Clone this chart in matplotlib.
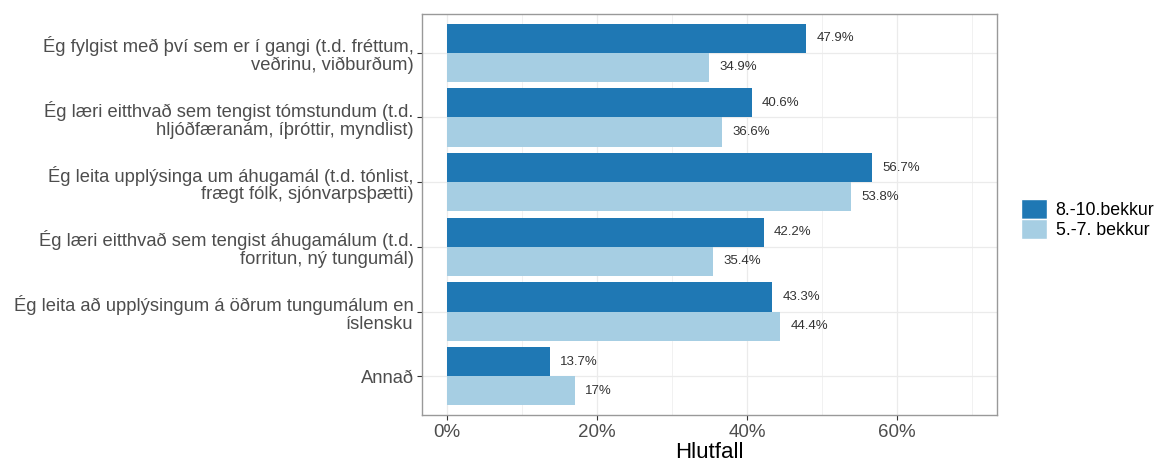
import matplotlib.pyplot as plt
from matplotlib.patches import Patch
from matplotlib.ticker import MultipleLocator, FuncFormatter

plt.rcParams['font.family'] = ['Liberation Sans', 'DejaVu Sans']

categories = [
    "Ég fylgist með því sem er í gangi (t.d. fréttum,\nveðrinu, viðburðum)",
    "Ég læri eitthvað sem tengist tómstundum (t.d.\nhljóðfæranám, íþróttir, myndlist)",
    "Ég leita upplýsinga um áhugamál (t.d. tónlist,\nfrægt fólk, sjónvarpsþætti)",
    "Ég læri eitthvað sem tengist áhugamálum (t.d.\nforritun, ný tungumál)",
    "Ég leita að upplýsingum á öðrum tungumálum en\níslensku",
    "Annað",
]
eldri = [47.9, 40.6, 56.7, 42.2, 43.3, 13.7]   # 8.-10.bekkur
yngri = [34.9, 36.6, 53.8, 35.4, 44.4, 17]     # 5.-7. bekkur
groups = ["8.-10.bekkur", "5.-7. bekkur"]
colors = ["#1F78B4", "#A6CEE3"]

fig = plt.figure(figsize=(11.64, 4.61), dpi=100)
ax = fig.add_axes([422 / 1164, 1 - 415 / 461, 575 / 1164, 401 / 461])

pos = list(range(1, len(categories) + 1))
w = 0.45
b1 = ax.barh([p - w / 2 for p in pos], eldri, height=w, color=colors[0], zorder=2)
b2 = ax.barh([p + w / 2 for p in pos], yngri, height=w, color=colors[1], zorder=2)

for bars, vals in ((b1, eldri), (b2, yngri)):
    for r, v in zip(bars, vals):
        ax.annotate(f"{v:g}%", (v, r.get_y() + r.get_height() / 2),
                    xytext=(7.5, 0), textcoords="offset points",
                    ha="left", va="center", fontsize=9.5, color="#333333")

ax.set_xlim(-3.33, 73.3)
ax.set_ylim(len(categories) + 0.6, 0.4)
ax.xaxis.set_major_locator(MultipleLocator(20))
ax.xaxis.set_minor_locator(MultipleLocator(10))
ax.xaxis.set_major_formatter(FuncFormatter(lambda x, _: f"{x:.0f}%"))
ax.set_yticks(pos)
ax.set_yticklabels(categories, fontsize=13.2, color="#4d4d4d", linespacing=1.05)
ax.tick_params(axis="x", labelsize=13.5, labelcolor="#4d4d4d", pad=3)
ax.tick_params(axis="y", pad=2.5)
ax.tick_params(which="major", length=3.5, color="#333333", width=0.8)
ax.tick_params(which="minor", length=0)

ax.grid(which="major", color="#EBEBEB", linewidth=0.9, zorder=0)
ax.grid(which="minor", axis="x", color="#EBEBEB", linewidth=0.5, zorder=0)
ax.set_axisbelow(True)
for s in ax.spines.values():
    s.set_color("#999999")
    s.set_linewidth(1.0)

ax.set_xlabel("Hlutfall", fontsize=16, labelpad=0.5)

handles = [Patch(facecolor=c, edgecolor="white") for c in colors]
fig.legend(handles, groups, loc="center left", bbox_to_anchor=(1005 / 1164, 1 - 219 / 461),
           frameon=False, fontsize=12.8, handlelength=1.45, handleheight=1.35,
           handletextpad=0.5, labelspacing=0.0)

fig.savefig("out.png", dpi=100)
